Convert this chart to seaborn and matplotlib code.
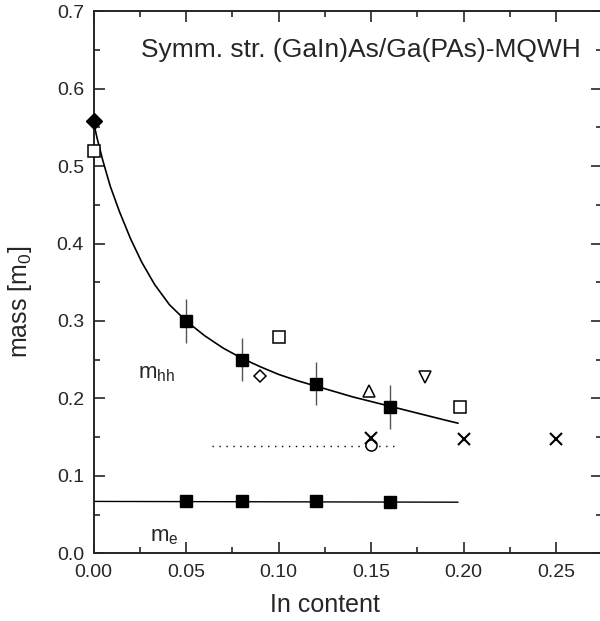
import matplotlib
matplotlib.use("Agg")
import matplotlib.pyplot as plt
import seaborn as sns
import pandas as pd

# heavy-hole mass, measured points with error bars
hh_x = [0.05, 0.08, 0.12, 0.16]
hh_m = [0.300, 0.250, 0.219, 0.189]
hh_err = [0.028, 0.028, 0.028, 0.028]

# electron mass
me_x = [0.05, 0.08, 0.12, 0.16]
me_m = [0.067, 0.067, 0.067, 0.066]
me_line_x = [0.0, 0.197]
me_line_m = [0.067, 0.066]

# fit curve for m_hh
fit_x = [0.0, 0.002, 0.005, 0.009, 0.014, 0.020, 0.026, 0.033, 0.041, 0.050,
         0.060, 0.070, 0.080, 0.090, 0.100, 0.110, 0.120, 0.130, 0.140, 0.150,
         0.160, 0.170, 0.180, 0.190, 0.197]
fit_m = [0.556, 0.535, 0.507, 0.474, 0.441, 0.406, 0.376, 0.347, 0.321, 0.300,
         0.281, 0.265, 0.252, 0.241, 0.231, 0.223, 0.216, 0.209, 0.202, 0.196,
         0.190, 0.184, 0.178, 0.172, 0.168]

# other literature values
diamond_filled = (0.0, 0.558)
open_squares_x = [0.0, 0.10, 0.198]
open_squares_m = [0.520, 0.279, 0.189]
open_diamond = (0.09, 0.229)
tri_up = (0.149, 0.210)
tri_down = (0.179, 0.228)
circle = (0.150, 0.140)
cross_x = [0.150, 0.200, 0.250]
cross_m = [0.149, 0.148, 0.148]
dotted_x = [0.064, 0.164]
dotted_m = [0.139, 0.139]

sns.set_style("ticks")
plt.rcParams['font.family'] = ['Liberation Sans', 'DejaVu Sans']
plt.rcParams['mathtext.fontset'] = 'custom'
plt.rcParams['mathtext.rm'] = 'Liberation Sans'
plt.rcParams['mathtext.it'] = 'Liberation Sans'

fig = plt.figure(figsize=(6, 6.21), dpi=100)
ax = fig.add_axes([0.156, 0.109, 0.848, 0.873])

df_fit = pd.DataFrame({'x': fit_x, 'm': fit_m})
sns.lineplot(data=df_fit, x='x', y='m', color='black', lw=1.2, sort=False,
             estimator=None, ax=ax)
sns.lineplot(x=me_line_x, y=me_line_m, color='black', lw=1.0, ax=ax)
ax.plot(dotted_x, dotted_m, color='black', lw=1.0, linestyle=(0, (1, 4)))

# error bars + filled squares
ax.errorbar(hh_x, hh_m, yerr=hh_err, fmt='none', ecolor='#555555', elinewidth=1.0,
            capsize=0, zorder=3)
ax.plot(hh_x, hh_m, 's', color='black', ms=9, zorder=4)
ax.plot(me_x, me_m, 's', color='black', ms=8.5, zorder=4)
ax.plot(*diamond_filled, 'D', color='black', ms=8, zorder=5, clip_on=False)

open_kw = dict(mfc='white', mec='black', mew=1.1, zorder=4, clip_on=False)
ax.plot(open_squares_x, open_squares_m, 's', ms=8, **open_kw)
ax.plot(*open_diamond, 'D', ms=6.5, **open_kw)
ax.plot(*tri_up, '^', ms=9, **open_kw)
ax.plot(*tri_down, 'v', ms=9, **open_kw)
ax.plot(*circle, 'o', ms=8, **open_kw)
ax.plot(cross_x, cross_m, 'x', color='black', ms=8, mew=1.5, zorder=4)

ax.set_xlim(0, 0.275)
ax.set_ylim(0, 0.7)
ax.set_xticks([0.0, 0.05, 0.10, 0.15, 0.20, 0.25])
ax.set_xticks([0.025, 0.075, 0.125, 0.175, 0.225, 0.275], minor=True)
ax.set_yticks([0.0, 0.1, 0.2, 0.3, 0.4, 0.5, 0.6, 0.7])
ax.set_yticks([0.05, 0.15, 0.25, 0.35, 0.45, 0.55, 0.65], minor=True)
ax.set_xticklabels(['0.00', '0.05', '0.10', '0.15', '0.20', '0.25'])
ax.set_yticklabels(['0.0', '0.1', '0.2', '0.3', '0.4', '0.5', '0.6', '0.7'])
ax.tick_params(which='both', direction='in', top=True, right=True, width=1.2)
ax.tick_params(axis='x', labelsize=14, pad=8)
ax.tick_params(axis='y', labelsize=14, pad=7)
ax.tick_params(which='major', length=8)
ax.tick_params(which='minor', length=4)
for s in ax.spines.values():
    s.set_linewidth(1.4)

ax.set_xlabel('In content', fontsize=18)
ax.xaxis.set_label_coords(0.455, -0.074)
ax.set_ylabel(r'mass [m$_0$]', fontsize=18)
ax.yaxis.set_label_coords(-0.117, 0.463)

ax.text(0.1446, 0.650, 'Symm. str. (GaIn)As/Ga(PAs)-MQWH', fontsize=19,
        ha='center', va='center')
ax.text(0.034, 0.232, r'm$_{\mathrm{hh}}$', fontsize=16, ha='center', va='center')
ax.text(0.038, 0.022, r'm$_{\mathrm{e}}$', fontsize=16, ha='center', va='center')

fig.savefig('out.png', dpi=100)
